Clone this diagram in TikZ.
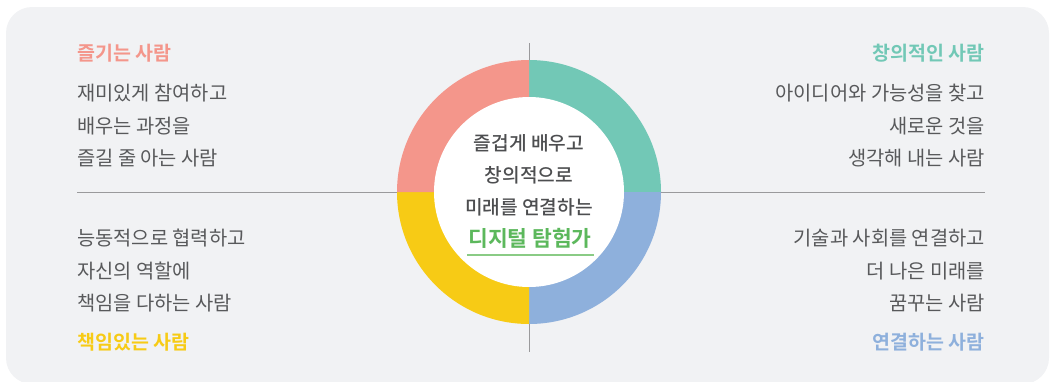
\documentclass[tikz,border=0pt]{standalone}
\usepackage{fontspec}
\newfontfamily\kr{Noto Sans CJK KR}
\newfontfamily\krb{Noto Sans CJK KR Bold}
\newfontfamily\krm{Noto Sans CJK KR Medium}
\definecolor{bg}{HTML}{F1F2F4}
\definecolor{txt}{HTML}{58595B}
\definecolor{ctxt}{HTML}{4D4E50}
\definecolor{pinkc}{HTML}{F4968B}
\definecolor{tealc}{HTML}{72C8B6}
\definecolor{bluec}{HTML}{8EB0DC}
\definecolor{yellowc}{HTML}{F7CB15}
\definecolor{greenc}{HTML}{5CB85C}
\definecolor{greenl}{HTML}{8ACB85}
\definecolor{linec}{HTML}{9A9A9C}
\begin{document}
\begin{tikzpicture}[x=1pt,y=-1pt,
  body/.style={font=\kr\fontsize{19.8}{32}\selectfont, text=txt, inner sep=0pt},
  title/.style={font=\krb\fontsize{19.5}{22}\selectfont, inner sep=0pt},
  ctr/.style={font=\krm\fontsize{19.2}{22}\selectfont, text=ctxt, inner sep=0pt}]
\useasboundingbox (0,0) rectangle (1050,381);
\begin{scope}
\clip (0,0) rectangle (1050,381);
\fill[bg, rounded corners=26pt] (6,7) rectangle (1049,384);
\end{scope}
\coordinate (c) at (529,192);
\coordinate (vt) at (529,43);
\coordinate (vb) at (529,352);
\coordinate (hl) at (77,192);
\coordinate (hr) at (985,192);
\draw[linec, line width=0.8pt] (vt) -- (vb);
\draw[linec, line width=0.8pt] (hl) -- (hr);
% ring
\fill[tealc] (c) -- ++(0,-132) arc[start angle=-90, end angle=0, radius=132] -- cycle;
\fill[bluec] (c) -- ++(132,0) arc[start angle=0, end angle=90, radius=132] -- cycle;
\fill[yellowc] (c) -- ++(0,132) arc[start angle=90, end angle=180, radius=132] -- cycle;
\fill[pinkc] (c) -- ++(-132,0) arc[start angle=180, end angle=270, radius=132] -- cycle;
\fill[white] (c) circle[radius=95];
% center text
\node[ctr] (c1) at (529,143) {즐겁게 배우고};
\node[ctr] (c2) at (529,175) {창의적으로};
\node[ctr] (c3) at (529,207) {미래를 연결하는};
\node[font=\krb\fontsize{21.5}{24}\selectfont, text=greenc, inner sep=0pt] (c4) at (530,238) {디지털 탐험가};
\coordinate (ul) at (467,255);
\coordinate (ur) at (594,255);
\draw[greenl, line width=1.2pt] (ul) -- (ur);
% top-left
\node[title, text=pinkc, anchor=west] (t1) at (77,53) {즐기는 사람};
\node[body, anchor=west] (b1a) at (77,93) {재미있게 참여하고};
\node[body, anchor=west] (b1b) at (77,126) {배우는 과정을};
\node[body, anchor=west] (b1c) at (77,158) {즐길 줄 아는 사람};
% top-right
\node[title, text=tealc, anchor=east] (t2) at (985,53) {창의적인 사람};
\node[body, anchor=east] (b2a) at (985,93) {아이디어와 가능성을 찾고};
\node[body, anchor=east] (b2b) at (985,126) {새로운 것을};
\node[body, anchor=east] (b2c) at (985,158) {생각해 내는 사람};
% bottom-left
\node[body, anchor=west] (b3a) at (77,238) {능동적으로 협력하고};
\node[body, anchor=west] (b3b) at (77,271) {자신의 역할에};
\node[body, anchor=west] (b3c) at (77,303) {책임을 다하는 사람};
\node[title, text=yellowc, anchor=west] (t3) at (77,342) {책임있는 사람};
% bottom-right
\node[body, anchor=east] (b4a) at (985,238) {기술과 사회를 연결하고};
\node[body, anchor=east] (b4b) at (985,271) {더 나은 미래를};
\node[body, anchor=east] (b4c) at (985,303) {꿈꾸는 사람};
\node[title, text=bluec, anchor=east] (t4) at (985,342) {연결하는 사람};
\end{tikzpicture}
\end{document}
